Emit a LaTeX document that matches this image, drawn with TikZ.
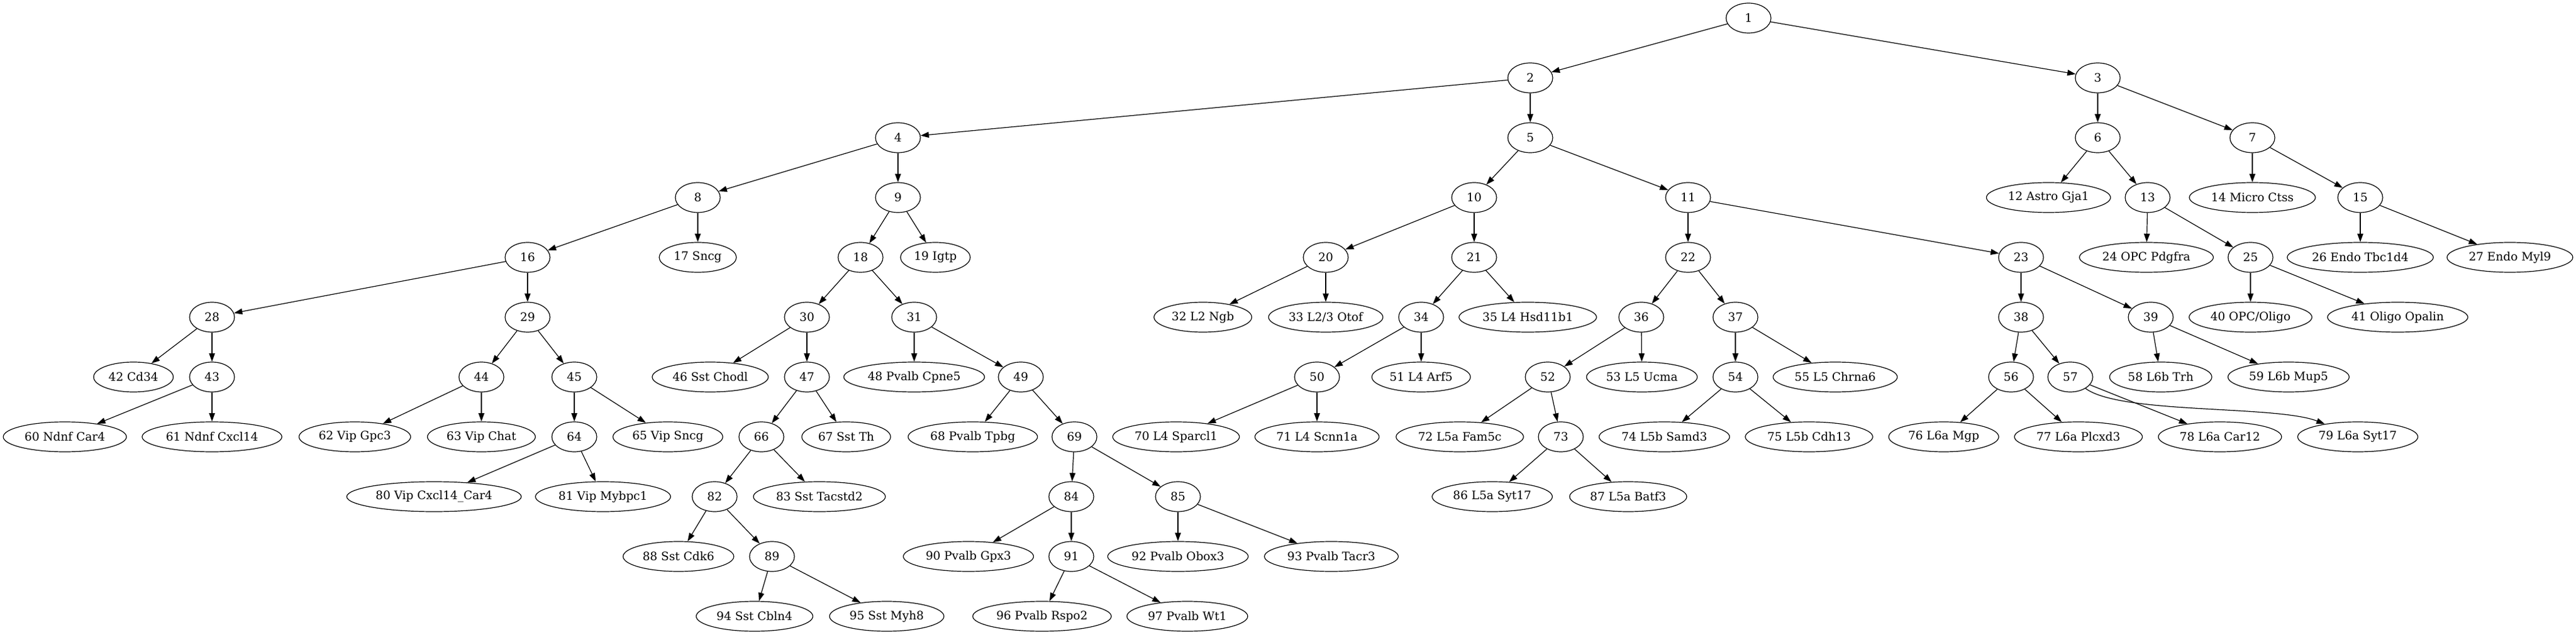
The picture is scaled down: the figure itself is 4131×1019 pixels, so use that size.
\documentclass[tikz,border=0pt]{standalone}
\usepackage{fontspec}
\setmainfont{DejaVu Serif}
\usetikzlibrary{arrows.meta,shapes.geometric}

\begin{document}
\begin{tikzpicture}[
          x=0.75pt, y=-0.75pt,
          cluster/.style = {draw, ellipse, line width=0.9pt, minimum width=54pt, minimum height=36pt,
                            inner xsep=4pt, inner ysep=3pt, font=\fontsize{14pt}{16pt}\selectfont},
          link/.style = {line width=0.9pt, -{Triangle[length=10pt, width=7pt]}}
        ]
        \useasboundingbox (0,0) rectangle (4131,1019);

        % level 0 to 3
        \node[cluster] (n1) at (2804,29) {1};
        \node[cluster] (n2) at (2454,125) {2};
        \node[cluster] (n3) at (3364,125) {3};
        \node[cluster] (n4) at (1440,221) {4};
        \node[cluster] (n5) at (2454,221) {5};
        \node[cluster] (n6) at (3364,221) {6};
        \node[cluster] (n7) at (3612,221) {7};
        \node[cluster] (n8) at (1119,317) {8};
        \node[cluster] (n9) at (1440,317) {9};
        \node[cluster] (n10) at (2364,317) {10};
        \node[cluster] (n11) at (2707,317) {11};
        \node[cluster] (n12) at (3285,317) {12 Astro Gja1};
        \node[cluster] (n13) at (3444,317) {13};
        \node[cluster] (n14) at (3612,317) {14 Micro Ctss};
        \node[cluster] (n15) at (3785,317) {15};

        % level 4
        \node[cluster] (n16) at (846,413) {16};
        \node[cluster] (n17) at (1119,413) {17 Sncg};
        \node[cluster] (n18) at (1380,413) {18};
        \node[cluster] (n19) at (1500,413) {19 Igtp};
        \node[cluster] (n20) at (2126,413) {20};
        \node[cluster] (n21) at (2364,413) {21};
        \node[cluster] (n22) at (2707,413) {22};
        \node[cluster] (n23) at (3241,413) {23};
        \node[cluster] (n24) at (3442,413) {24 OPC Pdgfra};
        \node[cluster] (n25) at (3609,413) {25};
        \node[cluster] (n26) at (3785,413) {26 Endo Tbc1d4};
        \node[cluster] (n27) at (4025,413) {27 Endo Myl9};

        % level 5
        \node[cluster] (n28) at (340,509) {28};
        \node[cluster] (n29) at (846,509) {29};
        \node[cluster] (n30) at (1294,509) {30};
        \node[cluster] (n31) at (1466,509) {31};
        \node[cluster] (n32) at (1929,509) {32 L2 Ngb};
        \node[cluster] (n33) at (2126,509) {33 L2/3 Otof};
        \node[cluster] (n34) at (2279,509) {34};
        \node[cluster] (n35) at (2450,509) {35 L4 Hsd11b1};
        \node[cluster] (n36) at (2632,509) {36};
        \node[cluster] (n37) at (2783,509) {37};
        \node[cluster] (n38) at (3241,509) {38};
        \node[cluster] (n39) at (3449,509) {39};
        \node[cluster] (n40) at (3609,509) {40 OPC/Oligo};
        \node[cluster] (n41) at (3845,509) {41 Oligo Opalin};

        % level 6
        \node[cluster] (n42) at (214,605) {42 Cd34};
        \node[cluster] (n43) at (340,605) {43};
        \node[cluster] (n44) at (772,605) {44};
        \node[cluster] (n45) at (921,605) {45};
        \node[cluster] (n46) at (1139,605) {46 Sst Chodl};
        \node[cluster] (n47) at (1294,605) {47};
        \node[cluster] (n48) at (1466,605) {48 Pvalb Cpne5};
        \node[cluster] (n49) at (1637,605) {49};
        \node[cluster] (n50) at (2112,605) {50};
        \node[cluster] (n51) at (2279,605) {51 L4 Arf5};
        \node[cluster] (n52) at (2482,605) {52};
        \node[cluster] (n53) at (2633,605) {53 L5 Ucma};
        \node[cluster] (n54) at (2783,605) {54};
        \node[cluster] (n55) at (2943,605) {55 L5 Chrna6};
        \node[cluster] (n56) at (3225,605) {56};
        \node[cluster] (n57) at (3320,605) {57};
        \node[cluster] (n58) at (3465,605) {58 L6b Trh};
        \node[cluster] (n59) at (3670,605) {59 L6b Mup5};

        % level 7
        \node[cluster] (n60) at (104,701) {60 Ndnf Car4};
        \node[cluster] (n61) at (340,701) {61 Ndnf Cxcl14};
        \node[cluster] (n62) at (569,701) {62 Vip Gpc3};
        \node[cluster] (n63) at (772,701) {63 Vip Chat};
        \node[cluster] (n64) at (921,701) {64};
        \node[cluster] (n65) at (1071,701) {65 Vip Sncg};
        \node[cluster] (n66) at (1221,701) {66};
        \node[cluster] (n67) at (1357,701) {67 Sst Th};
        \node[cluster] (n68) at (1560,701) {68 Pvalb Tpbg};
        \node[cluster] (n69) at (1723,701) {69};
        \node[cluster] (n70) at (1886,701) {70 L4 Sparcl1};
        \node[cluster] (n71) at (2112,701) {71 L4 Scnn1a};
        \node[cluster] (n72) at (2341,701) {72 L5a Fam5c};
        \node[cluster] (n73) at (2503,701) {73};
        \node[cluster] (n74) at (2669,701) {74 L5b Samd3};
        \node[cluster] (n75) at (2901,701) {75 L5b Cdh13};
        \node[cluster] (n76) at (3117,701) {76 L6a Mgp};
        \node[cluster] (n77) at (3333,701) {77 L6a Plcxd3};
        \node[cluster] (n78) at (3560,701) {78 L6a Car12};
        \node[cluster] (n79) at (3781,701) {79 L6a Syt17};

        % level 8 to 10
        \node[cluster] (n80) at (696,797) {80 Vip Cxcl14\_Car4};
        \node[cluster] (n81) at (967,797) {81 Vip Mybpc1};
        \node[cluster] (n82) at (1146,797) {82};
        \node[cluster] (n83) at (1314,797) {83 Sst Tacstd2};
        \node[cluster] (n84) at (1718,797) {84};
        \node[cluster] (n85) at (1889,797) {85};
        \node[cluster] (n86) at (2393,797) {86 L5a Syt17};
        \node[cluster] (n87) at (2611,797) {87 L5a Batf3};
        \node[cluster] (n88) at (1088,893) {88 Sst Cdk6};
        \node[cluster] (n89) at (1238,893) {89};
        \node[cluster] (n90) at (1553,893) {90 Pvalb Gpx3};
        \node[cluster] (n91) at (1718,893) {91};
        \node[cluster] (n92) at (1889,893) {92 Pvalb Obox3};
        \node[cluster] (n93) at (2135,893) {93 Pvalb Tacr3};
        \node[cluster] (n94) at (1210,989) {94 Sst Cbln4};
        \node[cluster] (n95) at (1422,989) {95 Sst Myh8};
        \node[cluster] (n96) at (1671,989) {96 Pvalb Rspo2};
        \node[cluster] (n97) at (1904,989) {97 Pvalb Wt1};

        \draw[link] (n1) -- (n2);
        \draw[link] (n1) -- (n3);
        \draw[link] (n2) -- (n4);
        \draw[link] (n2) -- (n5);
        \draw[link] (n3) -- (n6);
        \draw[link] (n3) -- (n7);
        \draw[link] (n4) -- (n8);
        \draw[link] (n4) -- (n9);
        \draw[link] (n5) -- (n10);
        \draw[link] (n5) -- (n11);
        \draw[link] (n6) -- (n12);
        \draw[link] (n6) -- (n13);
        \draw[link] (n7) -- (n14);
        \draw[link] (n7) -- (n15);
        \draw[link] (n8) -- (n16);
        \draw[link] (n8) -- (n17);
        \draw[link] (n9) -- (n18);
        \draw[link] (n9) -- (n19);
        \draw[link] (n10) -- (n20);
        \draw[link] (n10) -- (n21);
        \draw[link] (n11) -- (n22);
        \draw[link] (n11) -- (n23);
        \draw[link] (n13) -- (n24);
        \draw[link] (n13) -- (n25);
        \draw[link] (n15) -- (n26);
        \draw[link] (n15) -- (n27);
        \draw[link] (n16) -- (n28);
        \draw[link] (n16) -- (n29);
        \draw[link] (n18) -- (n30);
        \draw[link] (n18) -- (n31);
        \draw[link] (n20) -- (n32);
        \draw[link] (n20) -- (n33);
        \draw[link] (n21) -- (n34);
        \draw[link] (n21) -- (n35);
        \draw[link] (n22) -- (n36);
        \draw[link] (n22) -- (n37);
        \draw[link] (n23) -- (n38);
        \draw[link] (n23) -- (n39);
        \draw[link] (n25) -- (n40);
        \draw[link] (n25) -- (n41);
        \draw[link] (n28) -- (n42);
        \draw[link] (n28) -- (n43);
        \draw[link] (n29) -- (n44);
        \draw[link] (n29) -- (n45);
        \draw[link] (n30) -- (n46);
        \draw[link] (n30) -- (n47);
        \draw[link] (n31) -- (n48);
        \draw[link] (n31) -- (n49);
        \draw[link] (n34) -- (n50);
        \draw[link] (n34) -- (n51);
        \draw[link] (n36) -- (n52);
        \draw[link] (n36) -- (n53);
        \draw[link] (n37) -- (n54);
        \draw[link] (n37) -- (n55);
        \draw[link] (n38) -- (n56);
        \draw[link] (n38) -- (n57);
        \draw[link] (n39) -- (n58);
        \draw[link] (n39) -- (n59);
        \draw[link] (n43) -- (n60);
        \draw[link] (n43) -- (n61);
        \draw[link] (n44) -- (n62);
        \draw[link] (n44) -- (n63);
        \draw[link] (n45) -- (n64);
        \draw[link] (n45) -- (n65);
        \draw[link] (n47) -- (n66);
        \draw[link] (n47) -- (n67);
        \draw[link] (n49) -- (n68);
        \draw[link] (n49) -- (n69);
        \draw[link] (n50) -- (n70);
        \draw[link] (n50) -- (n71);
        \draw[link] (n52) -- (n72);
        \draw[link] (n52) -- (n73);
        \draw[link] (n54) -- (n74);
        \draw[link] (n54) -- (n75);
        \draw[link] (n56) -- (n76);
        \draw[link] (n56) -- (n77);
        \draw[link] (n57) -- (n78);
        \draw[link] (n57) .. controls (3400,665) and (3650,650) .. (n79);
        \draw[link] (n64) -- (n80);
        \draw[link] (n64) -- (n81);
        \draw[link] (n66) -- (n82);
        \draw[link] (n66) -- (n83);
        \draw[link] (n69) -- (n84);
        \draw[link] (n69) -- (n85);
        \draw[link] (n73) -- (n86);
        \draw[link] (n73) -- (n87);
        \draw[link] (n82) -- (n88);
        \draw[link] (n82) -- (n89);
        \draw[link] (n84) -- (n90);
        \draw[link] (n84) -- (n91);
        \draw[link] (n85) -- (n92);
        \draw[link] (n85) -- (n93);
        \draw[link] (n89) -- (n94);
        \draw[link] (n89) -- (n95);
        \draw[link] (n91) -- (n96);
        \draw[link] (n91) -- (n97);
      \end{tikzpicture}
\end{document}
